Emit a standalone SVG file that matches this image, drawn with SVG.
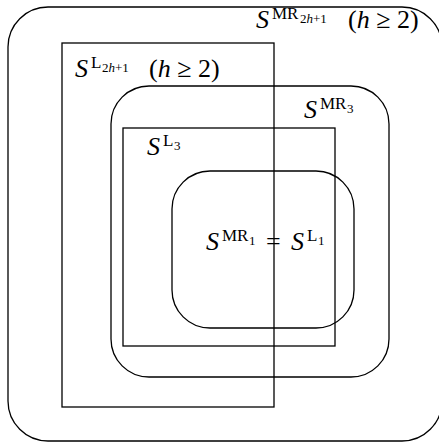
<svg xmlns="http://www.w3.org/2000/svg" width="439" height="442" viewBox="0 0 439 442">
<style>
.s{fill:none;stroke:#000;stroke-width:1.3}
text{font-family:"Liberation Serif",serif;fill:#000}
.m{font-size:26px}
.i{font-style:italic}
.sup{font-size:17px}
.sub{font-size:13px}
</style>
<rect width="439" height="442" fill="#fff"/>
<g id="MR2h1">
<rect class="s" x="8" y="7" width="434" height="434" rx="40"/>
<text class="m" x="256" y="28"><tspan class="i">S</tspan></text>
<text class="sup" x="272" y="19">MR</text>
<text class="sub" x="300" y="23"><tspan>2</tspan><tspan class="i">h</tspan><tspan>+1</tspan></text>
<text class="m" x="348" y="28">(<tspan class="i">h</tspan> ≥ 2)</text>
</g>
<g id="L2h1">
<rect class="s" x="62" y="43" width="212" height="364"/>
<text class="m" x="75" y="77"><tspan class="i">S</tspan></text>
<text class="sup" x="91" y="68">L</text>
<text class="sub" x="102" y="72"><tspan>2</tspan><tspan class="i">h</tspan><tspan>+1</tspan></text>
<text class="m" x="149" y="77">(<tspan class="i">h</tspan> ≥ 2)</text>
</g>
<g id="MR3">
<rect class="s" x="111" y="86" width="278" height="291" rx="38"/>
<text class="m" x="304" y="118"><tspan class="i">S</tspan></text>
<text class="sup" x="320" y="109">MR</text>
<text class="sub" x="347" y="113">3</text>
</g>
<g id="L3">
<rect class="s" x="123" y="128" width="212" height="218"/>
<text class="m" x="147" y="155"><tspan class="i">S</tspan></text>
<text class="sup" x="163" y="146">L</text>
<text class="sub" x="174" y="150">3</text>
</g>
<g id="MR1">
<rect class="s" x="172" y="171" width="182" height="157" rx="38"/>
<text class="m" x="206" y="250"><tspan class="i">S</tspan></text>
<text class="sup" x="222" y="241">MR</text>
<text class="sub" x="249" y="245">1</text>
<text class="m" x="266" y="250">=</text>
<text class="m" x="291" y="250"><tspan class="i">S</tspan></text>
<text class="sup" x="307" y="241">L</text>
<text class="sub" x="318" y="245">1</text>
</g>
<g id="connectors"></g>
</svg>
